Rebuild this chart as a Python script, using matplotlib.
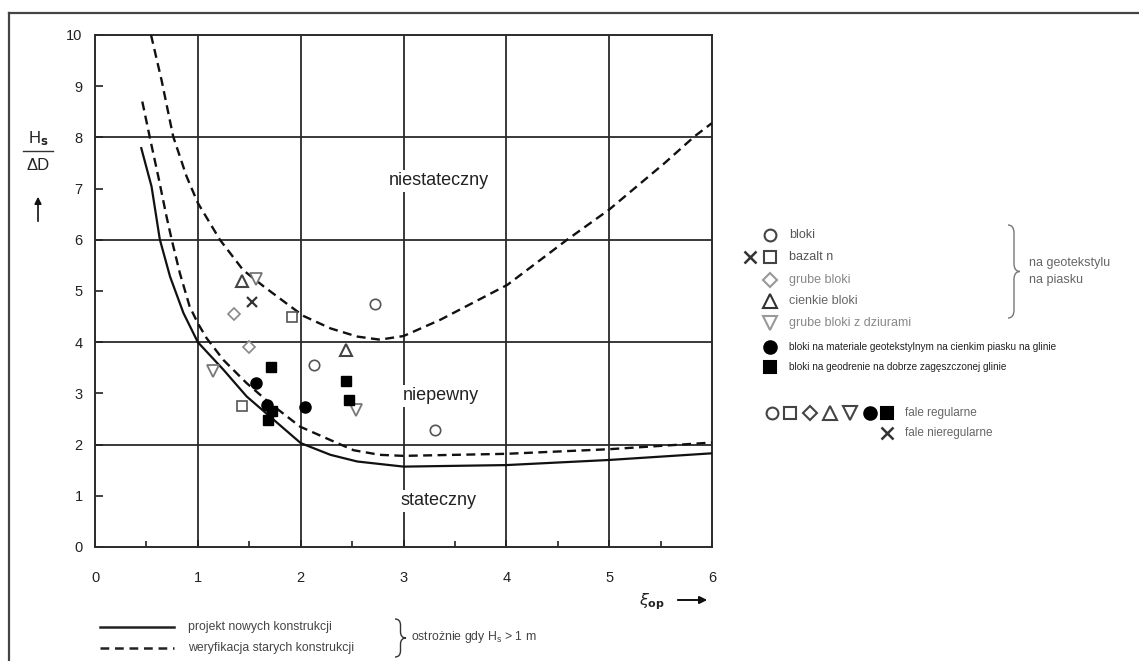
import matplotlib
matplotlib.use("Agg")
import matplotlib.pyplot as plt
from matplotlib.path import Path
from matplotlib.patches import PathPatch

plt.rcParams['font.family'] = ['Liberation Sans', 'DejaVu Sans']

# ---------------- data ----------------
x_ticks = [0, 1, 2, 3, 4, 5, 6]
y_ticks = [0, 1, 2, 3, 4, 5, 6, 7, 8, 9, 10]

# upper dashed curve
upper_x = [0.545, 0.647, 0.76, 0.89, 1.0, 1.215, 1.44, 1.64, 1.90, 2.03, 2.29,
           2.55, 2.77, 3.0, 3.36, 4.01, 4.59, 5.0, 5.54, 5.83, 6.0]
upper_y = [10.0, 9.12, 8.02, 7.24, 6.72, 6.0, 5.41, 5.09, 4.70, 4.51, 4.27,
           4.11, 4.05, 4.12, 4.44, 5.12, 6.0, 6.59, 7.5, 8.02, 8.28]

# lower dashed curve (weryfikacja starych konstrukcji)
verif_x = [0.46, 0.533, 0.615, 0.696, 0.745, 0.825, 0.92, 1.0, 1.085, 1.25,
           1.475, 1.70, 1.995, 2.22, 2.515, 2.77, 3.0, 4.0, 5.0, 6.0]
verif_y = [8.70, 8.0, 7.24, 6.45, 6.01, 5.35, 4.70, 4.37, 4.08, 3.65,
           3.20, 2.81, 2.35, 2.15, 1.89, 1.80, 1.78, 1.82, 1.91, 2.04]

# solid curve (projekt nowych konstrukcji)
design_x = [0.45, 0.55, 0.63, 0.73, 0.86, 1.0, 1.25, 1.475, 1.70, 2.0, 2.29,
            2.55, 3.0, 4.0, 5.0, 6.0]
design_y = [7.79, 7.04, 6.01, 5.28, 4.57, 4.0, 3.46, 2.94, 2.55, 2.03, 1.80,
            1.67, 1.57, 1.60, 1.70, 1.83]

# measured points
bloki_x = [2.72, 2.13, 3.31]
bloki_y = [4.74, 3.56, 2.29]
bazalt_x = [1.92, 1.43]
bazalt_y = [4.50, 2.76]
bazalt_irr_x = [1.53]
bazalt_irr_y = [4.78]
grube_x = [1.35, 1.50]
grube_y = [4.55, 3.91]
cienkie_x = [1.43, 2.44]
cienkie_y = [5.19, 3.85]
dziury_x = [1.57, 1.15, 2.54]
dziury_y = [5.23, 3.43, 2.68]
geotex_x = [1.57, 1.67, 2.04]
geotex_y = [3.21, 2.78, 2.74]
geodren_x = [1.71, 2.44, 2.47, 1.72, 1.68]
geodren_y = [3.52, 3.25, 2.87, 2.65, 2.48]

region_labels = ["niestateczny", "niepewny", "stateczny"]
region_x = [3.34, 3.36, 3.34]
region_y = [7.15, 2.95, 0.90]

legend_labels = ["bloki", "bazalt n", "grube bloki", "cienkie bloki",
                 "grube bloki z dziurami",
                 "bloki na materiale geotekstylnym na cienkim piasku na glinie",
                 "bloki na geodrenie na dobrze zagęszczonej glinie"]

# ---------------- figure ----------------
W, H = 1139, 661
fig = plt.figure(figsize=(W / 100, H / 100), dpi=100)
fig.patch.set_facecolor('white')

ax = fig.add_axes([95 / W, 1 - 547 / H, (712 - 95) / W, (547 - 35) / H])
ax.set_xlim(0, 6)
ax.set_ylim(0, 10)

gc = '#2a2a2a'
for xv in [1, 2, 3, 4, 5]:
    ax.axvline(xv, color=gc, lw=1.3, zorder=1)
for yv in [2, 4, 6, 8]:
    ax.axhline(yv, color=gc, lw=1.3, zorder=1)
for s in ax.spines.values():
    s.set_color(gc)
    s.set_linewidth(1.4)

ax.set_xticks(x_ticks)
ax.set_xticklabels([str(v) for v in x_ticks])
ax.set_xticks([0.5, 1.5, 2.5, 3.5, 4.5, 5.5], minor=True)
ax.set_yticks(y_ticks)
ax.set_yticklabels([str(v) for v in y_ticks])
ax.tick_params(axis='x', which='major', direction='in', length=5, width=1.2,
               pad=17, labelsize=10.5, colors='#222')
ax.tick_params(axis='x', which='minor', direction='in', length=4, width=1.2,
               colors='#222')
ax.tick_params(axis='y', which='major', direction='in', length=6, width=1.2,
               pad=9, labelsize=10.5, colors='#222')

dash = (0, (3.8, 2.3))
ax.plot(upper_x, upper_y, color='#111', lw=1.7, ls=dash, zorder=3)
ax.plot(verif_x, verif_y, color='#111', lw=1.7, ls=dash, zorder=3)
ax.plot(design_x, design_y, color='#111', lw=1.6, zorder=3)

ms = 7.5
ax.plot(bloki_x, bloki_y, 'o', ms=ms, mfc='white', mec='#555', mew=1.2, zorder=4)
ax.plot(bazalt_x, bazalt_y, 's', ms=ms - 0.5, mfc='white', mec='#555', mew=1.2, zorder=4)
ax.plot(bazalt_irr_x, bazalt_irr_y, 'x', ms=ms, mec='#333', mew=1.6, zorder=4)
ax.plot(grube_x, grube_y, 'D', ms=ms - 1, mfc='white', mec='#888', mew=1.2, zorder=4)
ax.plot(cienkie_x, cienkie_y, '^', ms=ms + 1, mfc='white', mec='#444', mew=1.5, zorder=4)
ax.plot(dziury_x, dziury_y, 'v', ms=ms + 1, mfc='white', mec='#777', mew=1.3, zorder=4)
ax.plot(geotex_x, geotex_y, 'o', ms=ms + 0.5, mfc='#000', mec='#000', zorder=4)
ax.plot(geodren_x, geodren_y, 's', ms=ms - 0.5, mfc='#000', mec='#000', zorder=4)

for t, xx, yy in zip(region_labels, region_x, region_y):
    ax.text(xx, yy, t, ha='center', va='center', fontsize=13, color='#222',
            zorder=5, bbox=dict(boxstyle='square,pad=0.15', fc='white', ec='none'))

# ---------------- overlay (pixel coordinates) ----------------
ov = fig.add_axes([0, 0, 1, 1])
ov.set_xlim(0, W)
ov.set_ylim(H, 0)
ov.axis('off')
ov.patch.set_alpha(0)

# figure border (top + left)
ov.plot([9, W], [13, 13], color='#444', lw=1.6, clip_on=False)
ov.plot([9, 9], [13, H], color='#444', lw=1.6, clip_on=False)

# y axis label
ov.text(38, 139, r'$\mathregular{H_{\mathbf{s}}}$', ha='center', va='center',
        fontsize=12, color='#222')
ov.plot([23, 53], [151, 151], color='#333', lw=1.0)
ov.text(38, 166, 'ΔD', ha='center', va='center', fontsize=12, color='#222')
ov.annotate('', xy=(38, 194), xytext=(38, 224),
            arrowprops=dict(arrowstyle='-|>', color='#111', lw=1.2,
                            mutation_scale=10))

# x axis label
ov.text(652, 602, r'$\xi_{\mathbf{op}}$', ha='center', va='center',
        fontsize=11.5, color='#222')
ov.annotate('', xy=(710, 600), xytext=(675, 600),
            arrowprops=dict(arrowstyle='-|>', color='#111', lw=1.4,
                            mutation_scale=11))


def brace(x0, y0, y1, w, color, lw):
    ym = (y0 + y1) / 2
    r = min(8, (y1 - y0) / 6)
    xm = x0 + w * 0.5
    verts = [(x0, y0), (xm, y0), (xm, y0 + r), (xm, ym - r),
             (xm, ym), (x0 + w, ym), (xm, ym), (xm, ym + r),
             (xm, y1 - r), (xm, y1), (x0, y1)]
    codes = [Path.MOVETO, Path.CURVE3, Path.CURVE3, Path.LINETO,
             Path.CURVE3, Path.CURVE3, Path.CURVE3, Path.CURVE3,
             Path.LINETO, Path.CURVE3, Path.CURVE3]
    ov.add_patch(PathPatch(Path(verts, codes), fc='none', ec=color, lw=lw))


# right legend
leg_y = [235, 257, 280, 301, 323, 347, 367]
leg_marker = ['o', 's', 'D', '^', 'v', 'o', 's']
leg_mfc = ['white', 'white', 'white', 'white', 'white', '#000', '#000']
leg_mec = ['#444', '#444', '#999', '#333', '#999', '#000', '#000']
leg_ms = [8.5, 8, 7, 9.5, 9.5, 9, 8]
leg_tc = ['#555', '#555', '#888', '#666', '#888', '#222', '#222']
leg_fs = [9, 9, 9, 9, 9, 7.2, 7.2]
for lab, yy, mk, fc, ec, s, tc, fs in zip(legend_labels, leg_y, leg_marker, leg_mfc,
                                          leg_mec, leg_ms, leg_tc, leg_fs):
    ov.plot([770], [yy], mk, ms=s, mfc=fc, mec=ec, mew=1.5)
    ov.text(789, yy, lab, ha='left', va='center', fontsize=fs, color=tc)
ov.plot([750], [257], 'x', ms=8, mec='#333', mew=1.8)

brace(1008, 225, 318, 12, '#777', 1.0)
ov.text(1029, 263, 'na geotekstylu', ha='left', va='center', fontsize=9, color='#666')
ov.text(1029, 280, 'na piasku', ha='left', va='center', fontsize=9, color='#666')

row_x = [772, 790, 810, 830, 850, 870, 887]
for xx, mk, fc, ec, s in zip(row_x, leg_marker, leg_mfc, leg_mec, leg_ms):
    ov.plot([xx], [413], mk, ms=s, mfc=fc, mec='#444' if fc == 'white' else '#000',
            mew=1.5)
ov.text(905, 413, 'fale regularne', ha='left', va='center', fontsize=8.5, color='#666')
ov.plot([887], [433], 'x', ms=8, mec='#333', mew=1.8)
ov.text(905, 433, 'fale nieregularne', ha='left', va='center', fontsize=8.5, color='#666')

# bottom legend
ov.plot([100, 174], [627, 627], color='#222', lw=1.8)
ov.plot([100, 174], [648, 648], color='#222', lw=1.8, ls=(0, (3.5, 2.3)))
ov.text(188, 627, 'projekt nowych konstrukcji', ha='left', va='center',
        fontsize=8.8, color='#444')
ov.text(188, 648, 'weryfikacja starych konstrukcji', ha='left', va='center',
        fontsize=8.8, color='#444')
brace(395, 619, 657, 11, '#333', 1.0)
ov.text(411, 637, r'ostrożnie gdy H$_\mathregular{s}$ > 1 m', ha='left',
        va='center', fontsize=8.8, color='#444')

fig.savefig('out.png', dpi=100)
